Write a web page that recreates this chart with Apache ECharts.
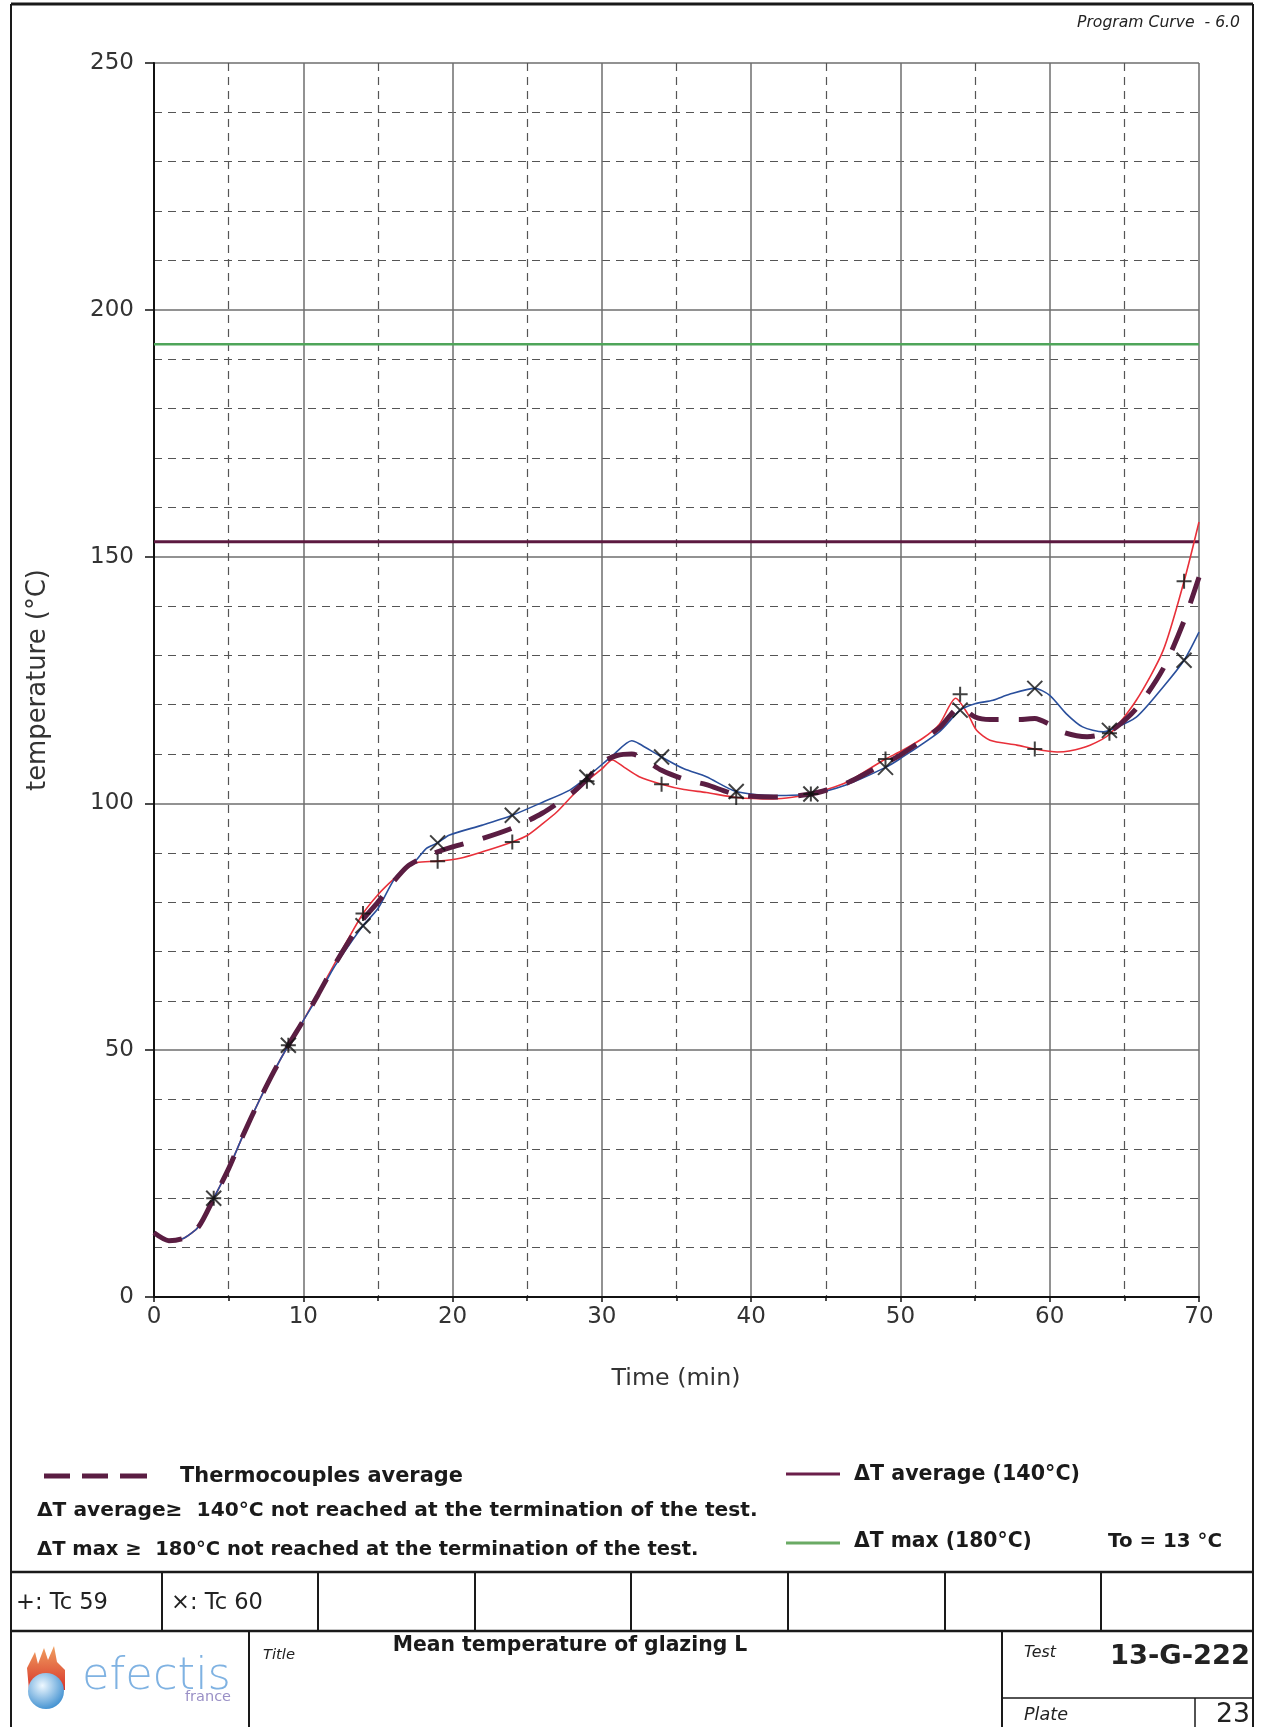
<!DOCTYPE html>
<html><head><meta charset="utf-8">
<script src="https://cdn.jsdelivr.net/npm/echarts@6/dist/echarts.min.js"></script>
<style>html,body{margin:0;padding:0;background:#fff}#c{width:1261px;height:1727px}</style>
</head><body><div id="c"></div><script>
// ---------------- data ----------------
const xTickValues = [0, 10, 20, 30, 40, 50, 60, 70];
const yTickValues = [0, 50, 100, 150, 200, 250];

// Tc 59 (red, "+")
const tc59Time = [0,1,2,3,4,5,6,7,8,9,10,11,12,13,14,15,16,17,17.6,19,20.5,22,24,25,26,27,28,29,30,30.7,31.5,32.5,34,35.5,37,39,41.5,44,46.4,49,50,51.5,52.6,53.7,54.5,55.1,56,57.8,59,60.5,61.3,62.7,64,65.8,67.6,69,70];
const tc59Temp = [13,11.4,11.9,14.3,20,26,33,39.5,45.5,51,56,61.5,67,72.5,77.7,81.5,84.5,87,88,88.3,88.9,90.2,92.2,93.5,95.8,98.3,101.5,104.5,107,108.8,107.3,105.4,103.9,102.8,102.2,101.2,100.9,101.9,104.3,109,110.5,113.2,116,121.3,118.2,114.8,112.8,111.8,111.0,110.4,110.6,111.8,114.0,120.9,131,145,157];

// Tc 60 (blue, "x")
const tc60Time = [0,1,2,3,4,5,6,7,8,9,10,11,12,13,14,15,16.2,17.5,18.25,19,19.8,22,24,26,27.85,29,30.75,32,32.5,34,35.5,37,39,41.5,44,46.4,49,50,52.6,54,55,56.2,57.3,59,60,61.1,62.2,63.6,64,65.8,67.6,69,70];
const tc60Temp = [13,11.4,11.9,14.3,20,26,33,39.5,45.5,51,56,61,66.5,71,75.2,78.7,85.1,88.3,90.9,92,93.6,95.6,97.6,100.2,102.7,105.3,109.8,112.7,112.1,109.4,107,105.4,102.4,101.6,101.9,103.8,107.3,109.1,114.5,118.9,120.2,120.9,122.1,123.3,121.9,118.2,115.5,114.5,114.8,117.5,123.6,129,134.7];

// Thermocouples average (dashed)
const avgTime = [0,1,2,3,4,5,6,7,8,9,10,11,12,13,14,15,16,17,18,19,20,22,24,26,28,29,30,31,32,34,35.5,37,39,41.5,44,46.4,49,50,52.6,54,55,56,58,59,60,61,62.5,64,65.8,67.6,69,70];
const avgTemp = [13,11.4,11.9,14.3,20,26,33,39.5,45.5,51,56,61.3,66.8,71.8,76.5,80,84,87.3,89,90.2,91.2,92.9,95,98,102.1,104.9,108.3,109.7,110,106.7,104.9,103.8,101.8,101.3,101.9,104.1,108.2,109.8,115.3,119.5,117.5,117,117,117.2,116,114.3,113.5,114.5,119.2,127.3,137,145.8];

// markers every 5 minutes
const markTime = [4,9,14,19,24,29,34,39,44,49,54,59,64,69];
const tc59Marks = [20,51,77.7,88.3,92.2,104.5,103.9,101.2,101.9,109,122.1,111,114.2,145];
const tc60Marks = [20,51,75.2,92,97.6,105.3,109.4,102.4,101.9,107.3,118.9,123.3,114.8,129];

// criteria lines (To + 140, To + 180)
const limitTime = [0, 70];
const avgLimit = [153, 153];
const maxLimit = [193, 193];

// ---------------- helpers ----------------
const FONT = "'DejaVu Sans', sans-serif";
const zip = (a, b) => a.map((v, i) => [v, b[i]]);
const mctx = document.createElement('canvas').getContext('2d');
function fit(text, target, weight, style) {
  mctx.font = (style || 'normal') + ' ' + (weight || 'normal') + ' 100px ' + FONT;
  return 100 * target / mctx.measureText(text).width;
}
function txt(text, x, y, opt) {
  opt = opt || {};
  const weight = opt.weight || 'normal', fstyle = opt.style || 'normal';
  const size = opt.width ? fit(text, opt.width, weight, fstyle) : opt.size;
  return {
    type: 'text', x: x, y: y, rotation: opt.rot || 0, z: 100,
    style: {
      text: text, fill: opt.color || '#1a1a1a',
      font: fstyle + ' ' + weight + ' ' + size.toFixed(2) + 'px ' + FONT,
      textAlign: opt.align || 'left', align: opt.align || 'left',
      textVerticalAlign: 'middle', verticalAlign: 'middle'
    }
  };
}
function ln(x1, y1, x2, y2, w, c, dash) {
  return { type: 'line', z: 100, shape: { x1, y1, x2, y2 },
    style: { stroke: c || '#1a1a1a', lineWidth: w || 2, lineDash: dash || null } };
}

const graphics = [];
// outer frame
graphics.push(ln(11, 4, 1253, 4, 3));
graphics.push(ln(11, 4, 11, 1727, 2));
graphics.push(ln(1253, 4, 1253, 1727, 2));
// program curve caption
graphics.push(txt('Program Curve  - 6.0', 1240, 23, { align: 'right', style: 'italic', width: 163, color: '#222' }));
// axis titles
graphics.push(txt('temperature (°C)', 38, 680, { align: 'center', rot: Math.PI / 2, width: 222, color: '#333' }));
graphics.push(txt('Time (min)', 676, 1379, { align: 'center', width: 129, color: '#333' }));

// legend block
const avgColor = '#5a1d42';
graphics.push(ln(44, 1476, 70, 1476, 5, avgColor));
graphics.push(ln(82, 1476, 108, 1476, 5, avgColor));
graphics.push(ln(120, 1476, 147, 1476, 5, avgColor));
graphics.push(txt('Thermocouples average', 180, 1477, { weight: 'bold', width: 283 }));
graphics.push(txt('ΔT average≥  140°C not reached at the termination of the test.', 37, 1511, { weight: 'bold', width: 721 }));
graphics.push(txt('ΔT max ≥  180°C not reached at the termination of the test.', 37, 1550, { weight: 'bold', width: 662 }));
graphics.push(ln(786, 1474, 840, 1474, 3, '#6b1f4a'));
graphics.push(txt('ΔT average (140°C)', 854, 1475, { weight: 'bold', width: 226 }));
graphics.push(ln(786, 1543, 840, 1543, 3, '#6aaa64'));
graphics.push(txt('ΔT max (180°C)', 854, 1542, { weight: 'bold', width: 178 }));
graphics.push(txt('To = 13 °C', 1108, 1542, { weight: 'bold', width: 114 }));

// table
graphics.push(ln(11, 1572, 1253, 1572, 2.5));
graphics.push(ln(11, 1631, 1253, 1631, 2.5));
[162, 318, 475, 631, 788, 945, 1101].forEach(x => graphics.push(ln(x, 1572, x, 1631, 2)));
graphics.push(txt('+: Tc 59', 16, 1603, { width: 92, color: '#222' }));
graphics.push(txt('×: Tc 60', 171, 1603, { width: 92, color: '#222' }));
graphics.push(ln(249, 1631, 249, 1727, 2));
graphics.push(ln(1002, 1631, 1002, 1727, 2));
graphics.push(ln(1002, 1698, 1253, 1698, 1.5));
graphics.push(ln(1195, 1698, 1195, 1727, 1.5));
graphics.push(txt('Title', 263, 1655, { style: 'italic', width: 32, color: '#222' }));
graphics.push(txt('Mean temperature of glazing L', 570, 1646, { weight: 'bold', align: 'center', width: 355 }));
graphics.push(txt('Test', 1024, 1653, { style: 'italic', width: 32, color: '#222' }));
graphics.push(txt('13-G-222', 1250, 1657, { weight: 'bold', align: 'right', width: 140, color: '#222' }));
graphics.push(txt('Plate', 1024, 1715, { style: 'italic', width: 44, color: '#222' }));
graphics.push(txt('23', 1250, 1715, { align: 'right', width: 34, color: '#222' }));

// logo
graphics.push({ type: 'polygon', z: 99, shape: { points: [[29,1690],[27,1668],[35,1652],[38,1664],[44,1648],[48,1660],[54,1646],[57,1662],[65,1670],[65,1690]] },
  style: { fill: new echarts.graphic.LinearGradient(0, 0, 0, 1, [{ offset: 0, color: '#f0a060' }, { offset: 1, color: '#d8332a' }]) } });
graphics.push({ type: 'circle', z: 100, shape: { cx: 46, cy: 1691, r: 18 },
  style: { fill: new echarts.graphic.RadialGradient(0.4, 0.35, 0.75, [{ offset: 0, color: '#eef8ff' }, { offset: 1, color: '#2f86cc' }]) } });
graphics.push(txt('efectis', 82, 1677, { weight: 'lighter', width: 149, color: '#7fb2e2' }));
graphics.push(txt('france', 231, 1697, { align: 'right', width: 46, color: '#9a90c6' }));

// ---------------- chart ----------------
const chart = echarts.init(document.getElementById('c'), null, { renderer: 'canvas' });
const gridLeft = 154, gridTop = 63, gridRight = 62, gridBottom = 430;

const option = {
  backgroundColor: '#fff',
  animation: false,
  grid: { left: gridLeft, top: gridTop, right: gridRight, bottom: gridBottom, containLabel: false },
  xAxis: {
    type: 'value', min: xTickValues[0], max: xTickValues[xTickValues.length - 1], interval: 10,
    axisLine: { show: true, onZero: false, lineStyle: { color: '#111', width: 2 } },
    axisTick: { show: true, length: 5, lineStyle: { color: '#111', width: 1.5 } },
    minorTick: { show: true, splitNumber: 2, length: 4, lineStyle: { color: '#111', width: 1.5 } },
    axisLabel: { fontSize: 23, color: '#333', margin: 9, fontFamily: FONT },
    splitLine: { show: true, lineStyle: { color: '#6e6e6e', width: 1.5 } },
    minorSplitLine: { show: true, lineStyle: { color: '#555', width: 1.2, type: [8, 6] } }
  },
  yAxis: {
    type: 'value', min: yTickValues[0], max: yTickValues[yTickValues.length - 1], interval: 50,
    axisLine: { show: true, onZero: false, lineStyle: { color: '#111', width: 2 } },
    axisTick: { show: true, length: 9, lineStyle: { color: '#111', width: 1.5 } },
    minorTick: { show: false, splitNumber: 5 },
    axisLabel: { fontSize: 23, color: '#333', margin: 20, fontFamily: FONT },
    splitLine: { show: true, lineStyle: { color: '#6e6e6e', width: 1.5 } },
    minorSplitLine: { show: true, lineStyle: { color: '#555', width: 1.2, type: [8, 6] } }
  },
  series: [
    { name: 'ΔT max (180°C)', type: 'line', data: zip(limitTime, maxLimit), symbol: 'none',
      lineStyle: { color: '#4fa55a', width: 2.5 }, z: 3 },
    { name: 'ΔT average (140°C)', type: 'line', data: zip(limitTime, avgLimit), symbol: 'none',
      lineStyle: { color: '#5c1a40', width: 3 }, z: 3 },
    { name: 'Tc 59', type: 'line', data: zip(tc59Time, tc59Temp), symbol: 'none', smooth: 0.25,
      lineStyle: { color: '#e8303a', width: 1.6 }, z: 4 },
    { name: 'Tc 60', type: 'line', data: zip(tc60Time, tc60Temp), symbol: 'none', smooth: 0.25,
      lineStyle: { color: '#2a4f9c', width: 1.6 }, z: 4 },
    { name: 'Thermocouples average', type: 'line', data: zip(avgTime, avgTemp), symbol: 'none', smooth: 0.25,
      lineStyle: { color: avgColor, width: 5, type: [30, 20] }, z: 5 },
    { name: 'Tc 59 marks', type: 'scatter', data: zip(markTime, tc59Marks),
      symbol: 'path://M5,0L5,10M0,5L10,5', symbolSize: 15,
      itemStyle: { color: 'rgba(0,0,0,0)', borderColor: '#111', borderWidth: 2 }, z: 6 },
    { name: 'Tc 60 marks', type: 'scatter', data: zip(markTime, tc60Marks),
      symbol: 'path://M0,0L10,10M10,0L0,10', symbolSize: 15,
      itemStyle: { color: 'rgba(0,0,0,0)', borderColor: '#111', borderWidth: 2 }, z: 6 }
  ],
  graphic: { elements: graphics }
};
chart.setOption(option);
</script></body></html>
